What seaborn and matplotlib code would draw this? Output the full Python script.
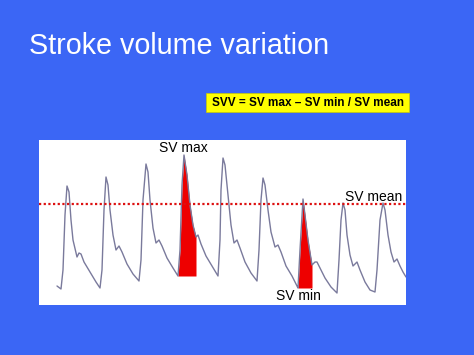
import numpy as np
import pandas as pd
import matplotlib
matplotlib.use("Agg")
import matplotlib.pyplot as plt
from matplotlib.patches import Rectangle
import seaborn as sns

# ---- data (time in arbitrary units, pressure in arbitrary units) ----
time = [18, 22, 24, 26, 28, 30, 32, 34, 38, 40, 42, 45, 51, 57, 61,
        63, 65, 67, 69, 71, 74, 77, 80, 83, 88, 94, 100,
        102, 104, 107, 109, 111, 114, 117, 120, 123, 128, 134, 139,
        141, 143, 145, 148, 151, 154, 157, 159, 162, 167, 173, 179,
        181, 182, 184, 186, 189, 192, 195, 198, 201, 206, 212, 218,
        220, 222, 224, 226, 229, 232, 236, 239, 242, 247, 253, 258,
        259, 261, 264, 266, 269, 273, 276, 278, 281, 286, 292, 298,
        300, 302, 304, 306, 308, 311, 314, 318, 321, 326, 331, 336,
        338, 341, 344, 346, 349, 352, 355, 358, 361, 364, 367]
pressure = [19, 16, 35, 90, 119, 113, 85, 65, 48, 52, 51, 43, 33, 23, 17,
            35, 95, 128, 120, 95, 70, 55, 59, 53, 41, 31, 24,
            45, 105, 141, 133, 105, 77, 62, 65, 59, 47, 37, 29,
            55, 120, 150, 130, 100, 80, 68, 70, 61, 49, 39, 29,
            65, 115, 147, 140, 110, 80, 62, 65, 57, 43, 32, 24,
            55, 105, 127, 120, 95, 73, 58, 60, 53, 39, 29, 19,
            17, 55, 106, 90, 65, 40, 43, 43, 37, 27, 18, 12,
            45, 85, 102, 95, 70, 50, 39, 43, 35, 23, 15, 13,
            35, 85, 102, 95, 70, 53, 43, 46, 39, 33, 28]
sv_mean = 101
sv_max_range = (139, 157)   # highlighted beat (start, end)
sv_min_range = (259, 273)
labels = {"SV max": (144, 157), "SV min": (259, 9), "SV mean": (335, 108)}
title = "Stroke volume variation"
formula = "SVV = SV max \u2013 SV min / SV mean"

BLUE = "#3b66f5"
RED = "#ee0000"

sns.set_theme(style="white")
plt.rcParams["font.family"] = ["Liberation Sans", "DejaVu Sans"]

fig = plt.figure(figsize=(4.74, 3.55), dpi=100, facecolor=BLUE)
ax = fig.add_axes([39 / 474, (355 - 305) / 355, 367 / 474, 165 / 355])
ax.set_facecolor("white")

df = pd.DataFrame({"time": time, "pressure": pressure})
t = np.array(time, dtype=float)
p = np.array(pressure, dtype=float)

# red highlighted beats
for (a, b) in (sv_max_range, sv_min_range):
    tt = np.linspace(a, b, 200)
    pp = np.interp(tt, t, p)
    ax.fill_between(tt, pp[0], pp, color=RED, lw=0, zorder=2)

sns.lineplot(data=df, x="time", y="pressure", sort=False, estimator=None,
             color="#7a7a9c", lw=1.0, ax=ax, zorder=3)

ax.axhline(sv_mean, color="#dd1111", lw=1.6, linestyle=(0, (1, 1.1)), zorder=4)

for txt, (x, y) in labels.items():
    ax.text(x, y, txt, ha="center", va="center", fontsize=10, color="black", zorder=5)

ax.set_xlim(0, 367)
ax.set_ylim(0, 165)
ax.set_xticks([])
ax.set_yticks([])
ax.set_xlabel("")
ax.set_ylabel("")
for s in ax.spines.values():
    s.set_visible(False)

fig.text(29 / 474, 1 - 46 / 355, title, ha="left", va="center",
         fontsize=20.7, color="white")

fig.patches.append(Rectangle((206 / 474, (355 - 112) / 355), 203 / 474, 19 / 355,
                             transform=fig.transFigure, facecolor="#ffff00",
                             edgecolor="#c8c800", lw=0.5))
fig.text(307.5 / 474, 1 - 102.5 / 355, formula, ha="center", va="center",
         fontsize=8.5, fontweight="bold", color="black")

fig.savefig("out.png", dpi=100, facecolor=BLUE)
